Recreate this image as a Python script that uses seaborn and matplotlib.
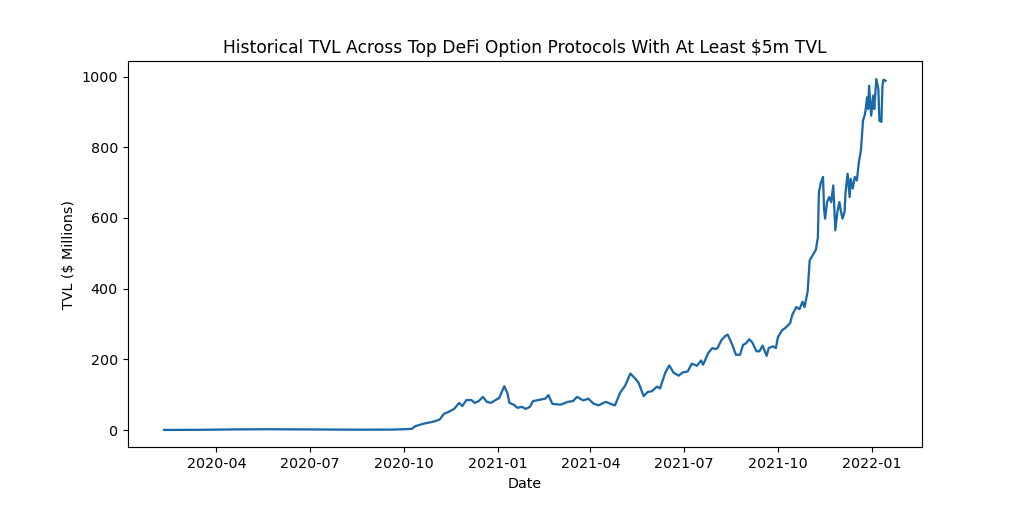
import pandas as pd
import matplotlib
matplotlib.use("Agg")
import matplotlib.pyplot as plt
import matplotlib.dates as mdates
import seaborn as sns

# --- values ---
DATES = [
    "2020-02-10", "2020-03-15", "2020-04-20", "2020-05-20", "2020-06-20",
    "2020-07-20", "2020-08-20", "2020-09-20", "2020-10-06", "2020-10-09",
    "2020-10-12", "2020-10-20", "2020-10-30", "2020-11-05", "2020-11-09",
    "2020-11-14", "2020-11-19", "2020-11-24", "2020-11-27", "2020-12-01",
    "2020-12-06", "2020-12-09", "2020-12-13", "2020-12-17", "2020-12-21",
    "2020-12-25", "2020-12-30", "2021-01-02", "2021-01-07", "2021-01-10",
    "2021-01-12", "2021-01-16", "2021-01-20", "2021-01-24", "2021-01-28",
    "2021-02-01", "2021-02-04", "2021-02-11", "2021-02-16", "2021-02-19",
    "2021-02-23", "2021-03-03", "2021-03-10", "2021-03-15", "2021-03-19",
    "2021-03-25", "2021-03-30", "2021-04-04", "2021-04-09", "2021-04-16",
    "2021-04-21", "2021-04-25", "2021-04-30", "2021-05-05", "2021-05-10",
    "2021-05-15", "2021-05-18", "2021-05-23", "2021-05-27", "2021-05-31",
    "2021-06-05", "2021-06-08", "2021-06-13", "2021-06-17", "2021-06-21",
    "2021-06-26", "2021-06-30", "2021-07-05", "2021-07-09", "2021-07-14",
    "2021-07-18", "2021-07-20", "2021-07-25", "2021-07-29", "2021-08-01",
    "2021-08-03", "2021-08-07", "2021-08-11", "2021-08-13", "2021-08-16",
    "2021-08-18", "2021-08-21", "2021-08-25", "2021-08-28", "2021-08-31",
    "2021-09-03", "2021-09-06", "2021-09-10", "2021-09-13", "2021-09-16",
    "2021-09-20", "2021-09-22", "2021-09-26", "2021-09-29", "2021-10-01",
    "2021-10-05", "2021-10-09", "2021-10-13", "2021-10-15", "2021-10-19",
    "2021-10-22", "2021-10-25", "2021-10-27", "2021-10-30", "2021-11-01",
    "2021-11-04", "2021-11-07", "2021-11-09", "2021-11-10", "2021-11-12",
    "2021-11-14", "2021-11-15", "2021-11-16", "2021-11-18", "2021-11-20",
    "2021-11-22", "2021-11-24", "2021-11-26", "2021-11-28", "2021-11-30",
    "2021-12-01", "2021-12-03", "2021-12-05", "2021-12-06", "2021-12-08",
    "2021-12-10", "2021-12-11", "2021-12-13", "2021-12-15", "2021-12-17",
    "2021-12-19", "2021-12-21", "2021-12-23", "2021-12-25", "2021-12-27",
    "2021-12-28", "2021-12-29", "2021-12-31", "2022-01-02", "2022-01-03",
    "2022-01-05", "2022-01-07", "2022-01-08", "2022-01-10", "2022-01-11",
    "2022-01-12", "2022-01-14",
]

TVL_MILLIONS = [
    0.5, 0.8, 2.0, 2.5, 2.0,
    1.8, 1.2, 1.5, 3, 4,
    11, 18, 24, 30, 46,
    52, 60, 77, 68, 85,
    85, 77, 82, 94, 80,
    77, 86, 91, 124, 105,
    77, 72, 63, 66, 60,
    66, 82, 86, 89, 99,
    74, 72, 80, 82, 94,
    84, 89, 75, 70, 80,
    74, 70, 106, 126, 160,
    145, 134, 96, 108, 110,
    123, 118, 162, 183, 163,
    154, 163, 166, 188, 182,
    197, 185, 218, 232, 229,
    232, 255, 267, 270, 251,
    237, 213, 213, 241, 246,
    257, 248, 223, 223, 239,
    210, 232, 237, 232, 263,
    282, 291, 303, 326, 348,
    342, 363, 348, 392, 480,
    495, 510, 545, 673, 701,
    716, 626, 598, 645, 659,
    645, 692, 565, 617, 645,
    626, 598, 617, 673, 725,
    659, 711, 683, 716, 706,
    758, 791, 875, 894, 941,
    908, 974, 889, 946, 908,
    993, 965, 875, 872, 974,
    991, 988,
]

TITLE = "Historical TVL Across Top DeFi Option Protocols With At Least \\$5m TVL"
X_LABEL = "Date"
Y_LABEL = "TVL (\\$ Millions)"

df = pd.DataFrame({"date": pd.to_datetime(DATES), "tvl": TVL_MILLIONS})

fig, ax = plt.subplots(figsize=(10, 5), dpi=102.4)
fig.subplots_adjust(left=0.125, right=0.9, top=0.88, bottom=0.126)

sns.lineplot(data=df, x="date", y="tvl", ax=ax, color="#1b68a8", linewidth=1.6)

ax.xaxis.set_major_locator(mdates.MonthLocator(bymonth=[1, 4, 7, 10]))
ax.xaxis.set_major_formatter(mdates.DateFormatter("%Y-%m"))
ax.set_title(TITLE)
ax.set_xlabel(X_LABEL)
ax.set_ylabel(Y_LABEL)

fig.savefig("out.png", dpi=102.4)
